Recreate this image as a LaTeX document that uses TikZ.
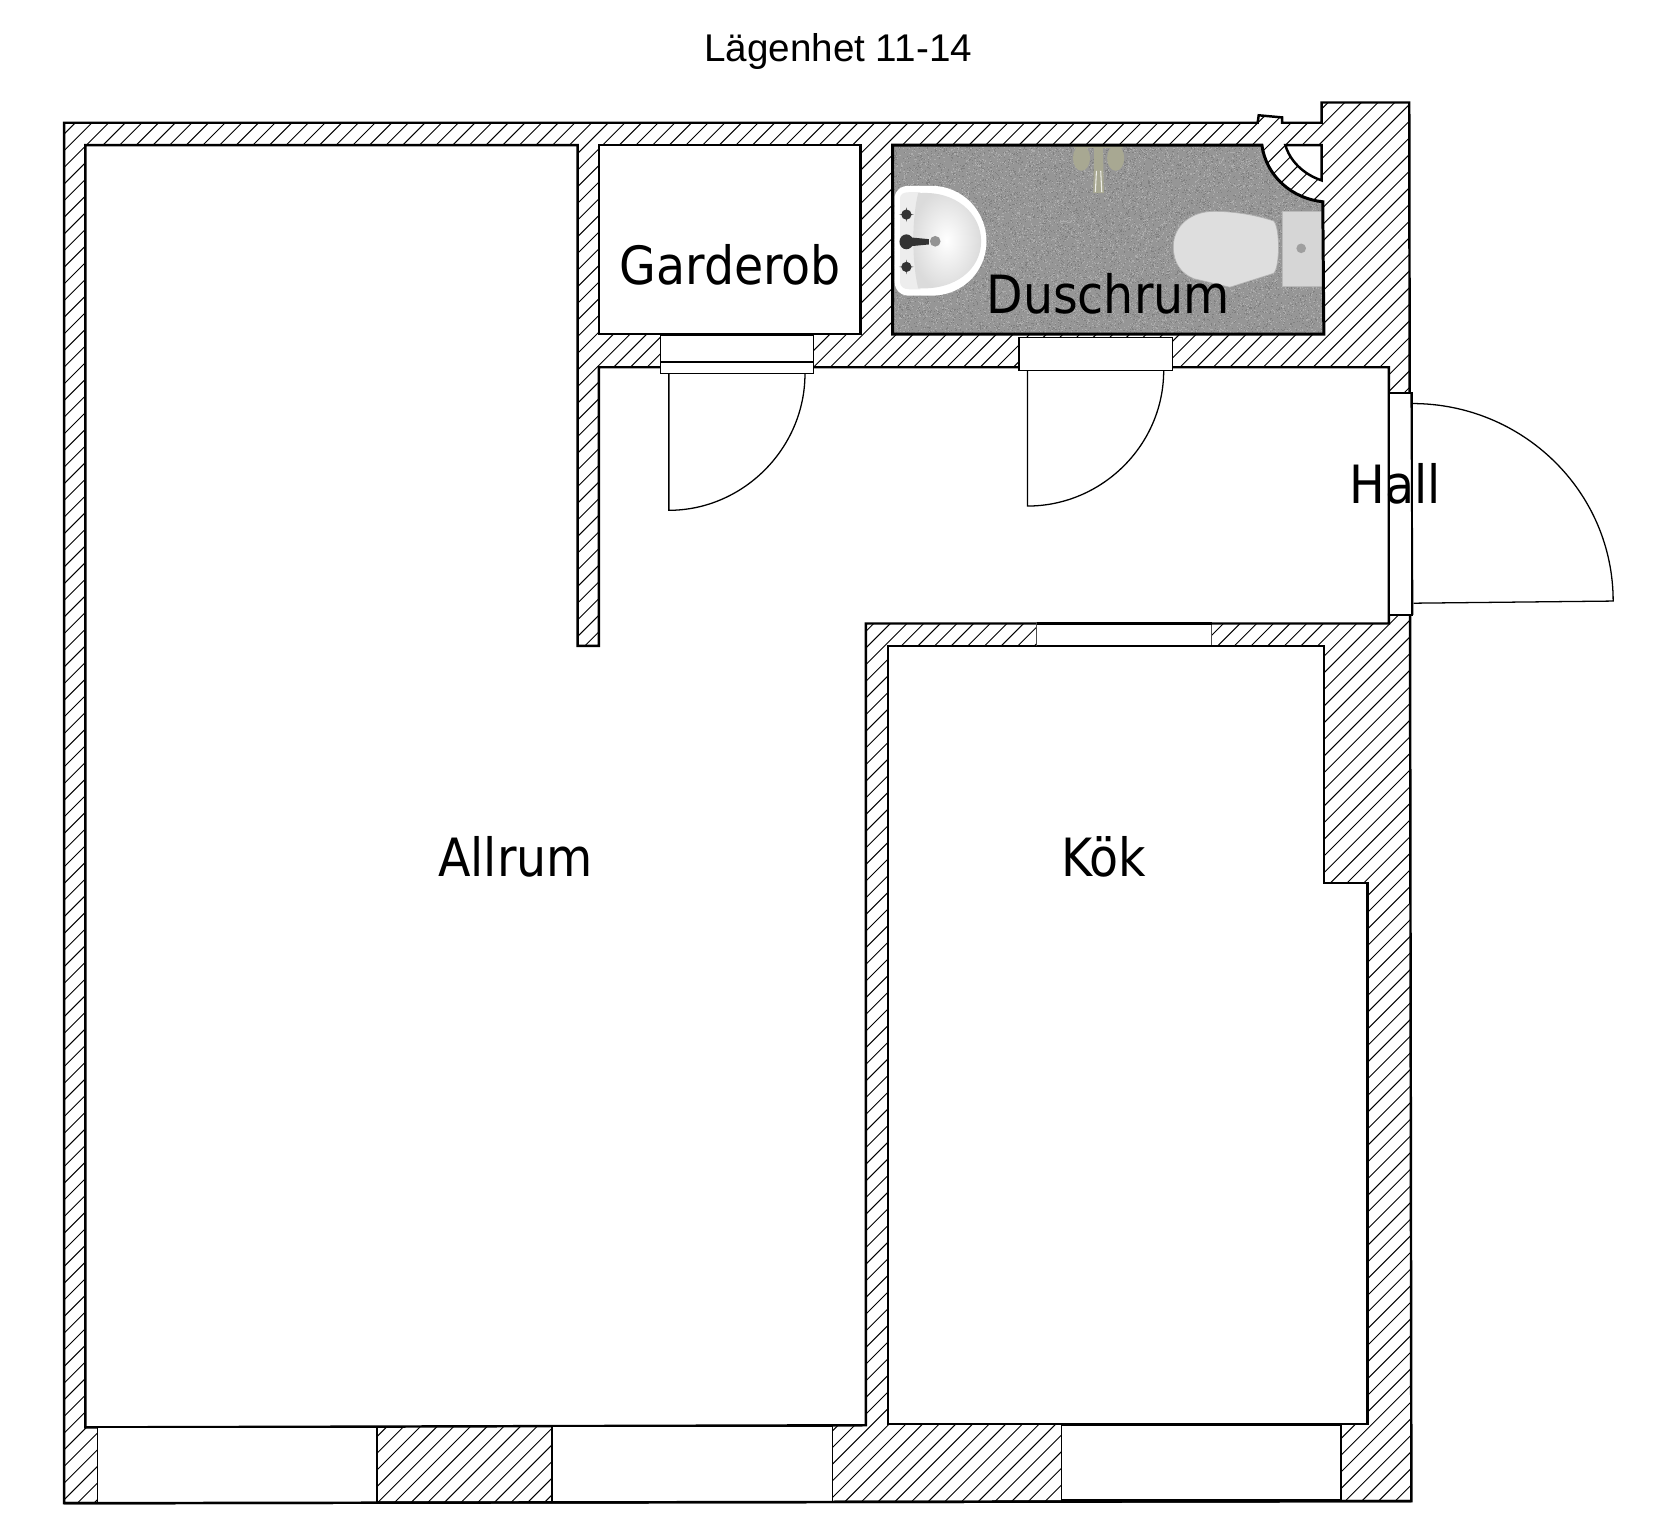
\documentclass[tikz,border=0pt]{standalone}
\usepackage{fontspec}
\setmainfont{Liberation Sans}
\newfontfamily\roomfont{DejaVu Sans Condensed}
\tikzset{
  wall/.style={draw=black,line width=1.15pt,line join=miter},
  thinline/.style={draw=black,line width=0.6pt},
  hatchline/.style={draw=black,line width=0.45pt},
  roomlabel/.style={font=\roomfont\fontsize{24.7}{28}\selectfont,text=black,inner sep=0pt},
  titlelabel/.style={font=\fontsize{18.1}{20}\selectfont,text=black,inner sep=0pt},
  opening/.style={fill=white,draw=black,line width=0.6pt},
}
\definecolor{floorgrey}{gray}{0.59}
\definecolor{speckdark}{gray}{0.5}
\definecolor{specklight}{gray}{0.68}
\definecolor{showerc}{HTML}{A8A892}
\definecolor{toiletc}{gray}{0.87}
\definecolor{tankc}{gray}{0.84}
\definecolor{knobc}{gray}{0.2}
\def\OuterP{(60,115) -- (1178,115) -- (1179,108) -- (1201,110) -- (1201,115) -- (1238,115) -- (1238,96) -- (1320,96) -- (1322,1406) -- (60,1408) -- cycle}
\def\AllrumP{(80,136) -- (541,136) -- (541,605) -- (561,605) -- (561,344) -- (1301,344) -- (1301,584) -- (811,584) -- (811,1335) -- (80,1337) -- cycle}
\def\GardP{(561,136) rectangle (806,313)}
\def\DuschP{(836,136) -- (1182,136) .. controls (1186,165) and (1210,186) .. (1239,189) -- (1240,313) -- (836,313) -- cycle}
\def\ClosetP{(1204,136) -- (1238,136) -- (1238,169) .. controls (1220,163) and (1208,150) .. (1204,136) -- cycle}
\def\KokP{(832,605) -- (1240,605) -- (1240,827) -- (1281,827) -- (1281,1334) -- (832,1334) -- cycle}
\newcommand{\speckles}[1]{%
  \foreach \i in {1,...,#1}{%
    \pgfmathrandominteger{\rx}{3344}{4960}%
    \pgfmathrandominteger{\ry}{544}{1252}%
    \pgfpathrectangle{\pgfqpoint{\rx sp}{\ry sp}}{\pgfqpoint{4sp}{4sp}}%
    \pgfusepath{fill}%
  }%
}
\newcommand{\tapknob}[2]{%
  \fill[knobc] (#1,#2) circle [radius=4.8];
  \fill[knobc] (#1-7,#2) -- (#1,#2-1) -- (#1+7,#2) -- (#1,#2+1) -- cycle;
  \fill[knobc] (#1,#2-7) -- (#1+1,#2) -- (#1,#2+7) -- (#1-1,#2) -- cycle;
}
\begin{document}
\begin{tikzpicture}[x=0.5pt,y=-0.5pt]
\useasboundingbox (0,0) rectangle (1568,1433);
\fill[white] (0,0) rectangle (1568,1433);
% hatching of the walls
\fill[white] \OuterP;
\begin{scope}
  \clip \OuterP;
  \foreach \c in {0,...,190}{
    \pgfmathsetmacro{\d}{170+15.6*\c}
    \draw[hatchline] (0,\d) -- (\d,0);
  }
\end{scope}
% rooms
\fill[white] \AllrumP;
\fill[white] \GardP;
\fill[white] \KokP;
\fill[white] \ClosetP;
% shower room floor
\fill[floorgrey] \DuschP;
\begin{scope}
  \clip \DuschP;
  \pgfmathsetseed{4711}
  \begin{scope}[cm={8192,0,0,-8192,(0,0)}]
    \pgfsetfillcolor{speckdark}
    \speckles{8000}
    \pgfsetfillcolor{specklight}
    \speckles{8000}
  \end{scope}
\end{scope}
% shower
\fill[showerc] (1013,148) ellipse [x radius=8,y radius=12];
\fill[showerc] (1045,148) ellipse [x radius=8,y radius=12];
\fill[showerc] (1006,137) rectangle (1052,139);
\fill[showerc] (1025,137) -- (1033,137) -- (1034,181) -- (1024,181) -- cycle;
\draw[white!80!showerc,line width=0.5pt] (1027,160) -- (1026,180) (1031,160) -- (1032,180);
% basin
\fill[white] (838,186) .. controls (838,178) and (844,174) .. (852,174) -- (872,174)
  .. controls (902,174) and (924,198) .. (924,226) .. controls (924,254) and (902,277) .. (872,277)
  -- (852,277) .. controls (844,277) and (838,272) .. (838,264) -- cycle;
\fill[white!93!black] (843,186) .. controls (843,182) and (846,180) .. (852,180) -- (862,180)
  -- (862,271) -- (852,271) .. controls (846,271) and (843,268) .. (843,264) -- cycle;
\shade[inner color=white,outer color=white!86!black] (860,181) .. controls (895,178) and (919,200) .. (919,226)
  .. controls (919,252) and (895,272) .. (860,270) .. controls (854,245) and (854,205) .. (860,181) -- cycle;
\tapknob{849}{201}
\tapknob{849}{250}
\fill[knobc] (849,226.5) ellipse [x radius=6.5,y radius=7];
\fill[knobc] (849,222) -- (870,224) -- (870,229) -- (849,231) -- cycle;
\fill[gray!85] (876,226) circle [radius=5];
% toilet
\fill[toiletc,draw=gray!60,line width=0.3pt] (1193,207) .. controls (1175,201) and (1155,198) .. (1137,198)
  .. controls (1115,198) and (1099,212) .. (1099,231) .. controls (1099,246) and (1106,256) .. (1118,261)
  -- (1152,269) -- (1193,256) .. controls (1199,250) and (1199,213) .. (1193,207) -- cycle;
\fill[tankc,draw=gray!55,line width=0.3pt] (1200.7,198) rectangle (1239.7,268);
\fill[gray!75] (1218.8,232.6) circle [radius=4.5];
% walls' outlines
\draw[wall] \OuterP;
\draw[wall] \AllrumP;
\draw[wall] \GardP;
\draw[wall] \KokP;
\draw[wall] \ClosetP;
\draw[wall,line width=1.4pt] \DuschP;
% bottom windows and wall piers
\draw[opening] (91,1337) rectangle (353,1408);
\draw[opening] (517,1336) rectangle (780,1407);
\draw[opening] (994,1335) rectangle (1256,1405);
\draw[thinline] (353,1337) -- (353,1408) (517,1336) -- (517,1407) (780,1336) -- (780,1407) (994,1335) -- (994,1405) (1256,1335) -- (1256,1405);
\draw[wall] (60,1408) -- (1322,1406);
% kitchen opening
\fill[white] (971,584) rectangle (1135,605);
\draw[thinline,draw=black!70] (971,584) -- (971,605) (1135,584) -- (1135,605);
\draw[wall] (971,584) -- (1135,584) (971,605) -- (1135,605);
% wardrobe door
\draw[opening] (618.5,314) rectangle (762,350);
\draw[thinline] (618.5,339) -- (762,339);
\draw[thinline] (626.5,350) -- (626.5,478) .. controls (696,478) and (754,420) .. (754,350);
% shower room door
\draw[opening] (954.5,316) rectangle (1098,347);
\draw[thinline] (962.5,347) -- (962.5,474) .. controls (1032,474) and (1090,417) .. (1090,347);
% entrance door
\draw[opening] (1301,368) rectangle (1322.5,576);
\draw[thinline] (1323,378) .. controls (1426,378) and (1511,460) .. (1511,563) -- (1324,565);
\draw[wall] (1301,368) -- (1301,584);
\draw[wall,line width=0.9pt] (1322,368) -- (1323,576);
% labels
\node[titlelabel] (title) at (785,48.5) {Lägenhet 11-14};
\node[roomlabel] (garderob) at (684,248) {Garderob};
\node[roomlabel] (duschrum) at (1038,275) {Duschrum};
\node[roomlabel] (allrum) at (483,803) {Allrum};
\node[roomlabel] (kok) at (1034,803) {Kök};
\node[roomlabel] (hall) at (1307,453) {Hall};
\end{tikzpicture}
\end{document}
